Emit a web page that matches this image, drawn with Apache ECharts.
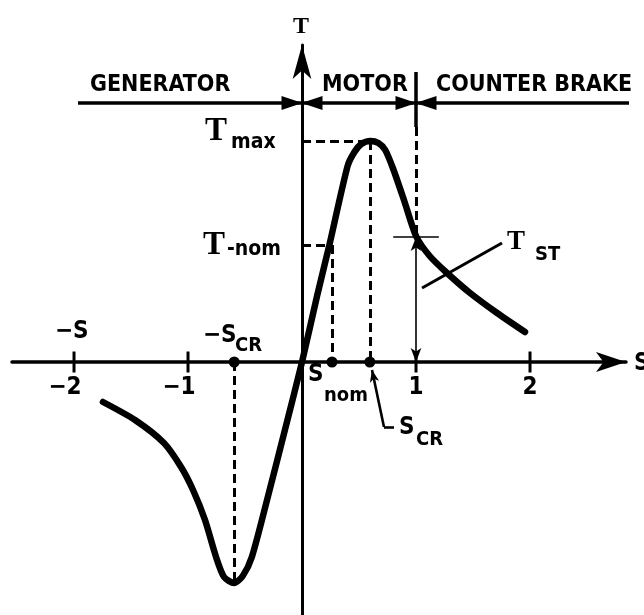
<!DOCTYPE html>
<html>
<head>
<meta charset="UTF-8">
<script src="https://cdn.jsdelivr.net/npm/echarts@6/dist/echarts.min.js"></script>
<style>
  html, body { margin: 0; padding: 0; background: #fff; }
  #main { width: 644px; height: 615px; }
</style>
</head>
<body>
<div id="main"></div>
<script type="text/javascript">
// torque-slip curve (s, T)
var slip   = [-1.746, -1.465, -1.211, -1.061, -0.956, -0.851, -0.754, -0.684, -0.596, -0.52, -0.44, -0.30, -0.15, 0, 0.132, 0.24, 0.40, 0.46, 0.52, 0.60, 0.67, 0.73, 0.80, 0.90, 1.0, 1.12, 1.272, 1.474, 1.711, 1.956];
var torque = [-0.40, -0.58, -0.81, -1.05, -1.28, -1.58, -1.95, -2.15, -2.21, -2.14, -1.95, -1.35, -0.68, 0, 0.66, 1.17, 1.96, 2.10, 2.18, 2.21, 2.19, 2.12, 1.93, 1.60, 1.26, 1.06, 0.89, 0.69, 0.49, 0.30];

// ticks on the s axis
var tickVals   = [-2, -1, 1, 2];
var tickLabels = ['\u22122', '\u22121', '1', '2'];

// characteristic points
var sNom = 0.263, sCr = 0.595;
var tMax = 2.21, tNom = 1.17, tSt = 1.25, tMinGen = -2.21;

// region bar (generator / motor / counter brake)
var regionT = 2.59, regionStart = -1.965, regionEnd = 3.05;
var regionBounds = [0, 1];
var dividerTop = 2.90, dividerSolidEnd = 2.35;

var SANS = "'DejaVu Sans Condensed', 'Liberation Sans Narrow', 'DejaVu Sans', sans-serif";
var SERIF = "'Liberation Serif', 'DejaVu Serif', serif";

var myChart = echarts.init(document.getElementById('main'));

function txt(t, x, y, size, fam, align) {
	return {
		type: 'text', x: x, y: y, z: 100,
		style: {
			text: t, x: 0, y: 0, fill: '#000',
			font: 'bold ' + size + 'px ' + fam,
			textAlign: align || 'left', align: align || 'left',
			textVerticalAlign: 'middle', verticalAlign: 'middle'
		}
	};
}
function seg(a, b, style, s1, s2) {
	var p = { coord: a, lineStyle: style };
	var q = { coord: b };
	if (s1) { p.symbol = s1[0]; p.symbolSize = s1[1]; }
	if (s2) { q.symbol = s2[0]; q.symbolSize = s2[1]; }
	return [p, q];
}

var dash = { type: [9, 5], width: 3, color: '#000' };
var solid = { type: 'solid', width: 3.5, color: '#000' };
var thin = { type: 'solid', width: 1.6, color: '#000' };
var mid = { type: 'solid', width: 2.6, color: '#000' };
var black = { color: '#000', opacity: 1 };

var arrowData = [];
regionBounds.forEach(function (b) {
	arrowData.push({ value: [b, regionT], symbolRotate: -90, symbolOffset: [-10, 0] });
	arrowData.push({ value: [b, regionT], symbolRotate: 90, symbolOffset: [10, 0] });
});

var option = {
	animation: false,
	grid: { left: 12, right: 18, top: 45, bottom: 0 },
	xAxis: {
		type: 'value', min: -2.544, max: 2.842,
		axisLine: { show: true, onZero: true, symbol: ['none', 'arrow'], symbolSize: [15, 30], lineStyle: { color: '#000', width: 3.5 } },
		axisTick: { show: false }, axisLabel: { show: false }, splitLine: { show: false }
	},
	yAxis: {
		type: 'value', min: -2.53, max: 3.17,
		axisLine: { show: true, onZero: true, symbol: ['none', 'arrow'], symbolSize: [14, 34], lineStyle: { color: '#000', width: 3 } },
		axisTick: { show: false }, axisLabel: { show: false }, splitLine: { show: false }
	},
	series: [
		{
			name: 'T', type: 'line', z: 5,
			data: slip.map(function (s, i) { return [s, torque[i]]; }),
			smooth: 0.25, showSymbol: false,
			lineStyle: { width: 6.5, color: '#000', cap: 'round', join: 'round' }
		},
		{
			// region bar, runs to the right edge
			type: 'line', z: 4, clip: false, showSymbol: false, silent: true,
			data: [[regionStart, regionT], [regionEnd, regionT]],
			lineStyle: solid
		},
		{
			type: 'line', data: [], z: 3,
			markLine: {
				silent: true, symbol: 'none', label: { show: false },
				data: [
					seg([0, tMax], [sCr, tMax], dash),
					seg([sCr, tMax], [sCr, 0], dash),
					seg([0, tNom], [sNom, tNom], dash),
					seg([sNom, tNom], [sNom, 0], dash),
					seg([-sCr, 0], [-sCr, tMinGen], dash),
					seg([1, dividerSolidEnd], [1, tSt], dash)
				]
			}
		},
		{
			type: 'line', data: [], z: 4,
			markLine: {
				silent: true, symbol: 'none', label: { show: false },
				data: [
					seg([1, dividerTop], [1, dividerSolidEnd], solid),
					seg([0.8, tSt], [1.2, tSt], thin),
					seg([1, tSt], [1, 0], thin, ['arrow', [8, 14]], ['arrow', [8, 14]]),
					seg([1.053, 0.74], [1.754, 1.19], { type: 'solid', width: 3, color: '#000' }),
					seg([0.719, -0.65], [0.614, -0.08], mid, null, ['arrow', [7, 12]]),
					seg([0.719, -0.65], [0.807, -0.65], mid)
				]
			}
		},
		{
			type: 'scatter', z: 6,
			data: tickVals.map(function (v) { return [v, 0]; }),
			symbol: 'rect', symbolSize: [3, 21],
			itemStyle: black,
			label: {
				show: true, position: 'bottom', distance: 3,
				fontFamily: SANS, fontWeight: 'bold', fontSize: 24, color: '#000',
				formatter: function (p) { return tickLabels[p.dataIndex]; }
			},
			labelLayout: function (p) {
				return tickVals[p.dataIndex] < 0 ? { dx: -9 } : {};
			}
		},
		{
			type: 'scatter', z: 7,
			data: [[sNom, 0], [sCr, 0], [-sCr, 0]],
			symbol: 'circle', symbolSize: 11,
			itemStyle: black
		},
		{
			type: 'scatter', z: 7,
			data: arrowData,
			symbol: 'triangle', symbolSize: [14, 21],
			itemStyle: black
		}
	],
	graphic: [
		txt('T', 301, 27, 24, SERIF, 'center'),
		txt('GENERATOR', 90, 85, 23, SANS),
		txt('MOTOR', 322, 85, 23, SANS),
		txt('COUNTER BRAKE', 436, 85, 23, SANS),
		txt('T', 205, 131, 33, SERIF),
		txt('max', 231, 143, 21, SANS),
		txt('T', 203, 245, 33, SERIF),
		txt('-nom', 227, 250, 21, SANS),
		txt('T', 507, 242, 27, SERIF),
		txt('ST', 535, 255, 20, SANS),
		txt('\u2212S', 55, 332, 24, SANS),
		txt('\u2212S', 203, 336, 24, SANS),
		txt('CR', 235, 346, 20, SANS),
		txt('S', 308, 375, 24, SANS),
		txt('nom', 324, 396, 20, SANS),
		txt('S', 399, 428, 24, SANS),
		txt('CR', 416, 440, 20, SANS),
		txt('S', 634, 364, 24, SANS)
	]
};

myChart.setOption(option);
</script>
</body>
</html>
